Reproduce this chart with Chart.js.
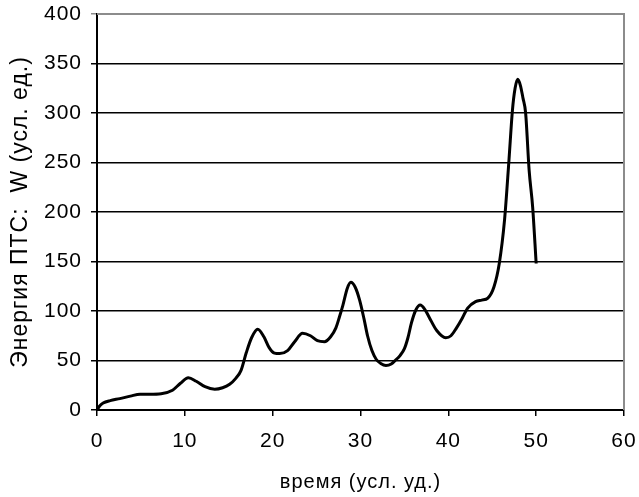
<!DOCTYPE html>
<html>
<head>
<meta charset="utf-8">
<script src="https://cdn.jsdelivr.net/npm/chart.js@4/dist/chart.umd.min.js"></script>
<style>
  html, body { margin: 0; padding: 0; background: #fff; }
  #wrap { width: 639px; height: 497px; }
</style>
</head>
<body>
<div id="wrap"><canvas id="chart" width="639" height="497"></canvas></div>
<script>
// время (усл. уд.)
const timeValues = [0, 0.3, 0.7, 1.5, 2.6, 3.8, 4.9, 6, 7.3, 8.6, 9.5, 10.4, 11.3, 12.3, 13.4, 14.3, 15.1, 15.8, 16.4, 17, 17.6, 18.3, 19, 19.6, 20.2, 20.8, 21.7, 22.5, 23.4, 24.3, 25.1, 25.9, 26.6, 27.2, 27.6, 28, 28.5, 28.9, 29.4, 29.9, 30.4, 30.8, 31.3, 31.8, 32.3, 32.9, 33.5, 34, 34.5, 35, 35.4, 35.8, 36.3, 36.8, 37.3, 37.8, 38.7, 39.7, 40.3, 40.9, 41.6, 42.2, 43.1, 43.8, 44.5, 45.2, 45.8, 46.4, 46.9, 47.3, 47.6, 47.9, 48.2, 48.5, 48.8, 49.2, 49.6, 50];
// Энергия ПТС W (усл. ед.)
const energyValues = [0, 4, 7, 9.5, 11.5, 14, 16, 16, 16.5, 20, 27, 32.5, 29, 23.5, 21, 22.5, 26, 32, 40, 58, 73, 81.5, 74, 63, 57.5, 57, 60, 69, 77.5, 75, 70, 69, 74, 83, 94, 106, 123, 129, 124, 111, 92, 75, 60, 51, 47, 45, 46.5, 50.5, 55, 62, 73, 88, 101, 106, 102, 94, 80, 73, 75, 82.5, 93, 103, 109.5, 111, 113, 124.5, 148, 192, 252, 303, 325, 334, 328, 315, 300, 242, 205, 148];

const xTicks = [0, 10, 20, 30, 40, 50, 60];
const yTicks = [0, 50, 100, 150, 200, 250, 300, 350, 400];

const xTitle = 'время (усл. уд.)';
const yTitle = 'Энергия ПТС:  W (усл. ед.)';

const points = timeValues.map((t, i) => ({ x: t, y: energyValues[i] }));

const FAMILY = '"Liberation Sans", Arial, sans-serif';
const TICK_FONT = { family: FAMILY, size: 21 };
const X_TITLE_FONT = { family: FAMILY, size: 20 };
const Y_TITLE_FONT = { family: FAMILY, size: 23 };

// slightly open letter spacing for all chart text
const textSpacing = {
  id: 'textSpacing',
  beforeDraw(chart) { chart.ctx.letterSpacing = '1px'; }
};

// grey frame along the top and right of the plot area
const frameEdges = {
  id: 'frameEdges',
  afterDraw(chart) {
    const { ctx, chartArea: a } = chart;
    ctx.save();
    ctx.strokeStyle = '#8c8c8c';
    ctx.lineWidth = 2;
    ctx.beginPath();
    ctx.moveTo(a.left, a.top);
    ctx.lineTo(a.right, a.top);
    ctx.lineTo(a.right, a.bottom);
    ctx.stroke();
    ctx.restore();
  }
};

new Chart(document.getElementById('chart'), {
  type: 'line',
  data: {
    datasets: [{
      data: points,
      borderColor: '#000',
      borderWidth: 3,
      pointRadius: 0,
      fill: false,
      cubicInterpolationMode: 'monotone'
    }]
  },
  options: {
    responsive: false,
    animation: false,
    layout: { padding: { top: 14, right: 15, left: 0, bottom: 0 } },
    plugins: { legend: { display: false }, tooltip: { enabled: false } },
    scales: {
      x: {
        type: 'linear',
        min: xTicks[0],
        max: xTicks[xTicks.length - 1],
        afterBuildTicks: s => { s.ticks = xTicks.map(v => ({ value: v })); },
        afterFit: s => { s.height = 87; s.paddingLeft = 0; s.paddingRight = 0; },
        ticks: { color: '#000', font: TICK_FONT, padding: 13, maxRotation: 0 },
        grid: { drawOnChartArea: false, drawTicks: true, tickLength: 6, color: '#000', lineWidth: 1.5 },
        border: { color: '#000', width: 2 },
        title: { display: true, text: xTitle, color: '#000', font: X_TITLE_FONT, padding: { top: 0, bottom: 3 } }
      },
      y: {
        min: yTicks[0],
        max: yTicks[yTicks.length - 1],
        afterBuildTicks: s => { s.ticks = yTicks.map(v => ({ value: v })); },
        afterFit: s => { s.width = 97; s.paddingTop = 0; s.paddingBottom = 0; },
        ticks: { color: '#000', font: TICK_FONT, padding: 9 },
        grid: {
          drawTicks: true,
          tickLength: 6,
          color: c => (c.tick && c.tick.value === 400 ? '#8c8c8c' : '#000'),
          lineWidth: 1.5
        },
        border: { color: '#000', width: 2 },
        title: { display: true, text: yTitle, color: '#000', font: Y_TITLE_FONT, padding: { top: 7, bottom: 0 } }
      }
    }
  },
  plugins: [textSpacing, frameEdges]
});
</script>
</body>
</html>
